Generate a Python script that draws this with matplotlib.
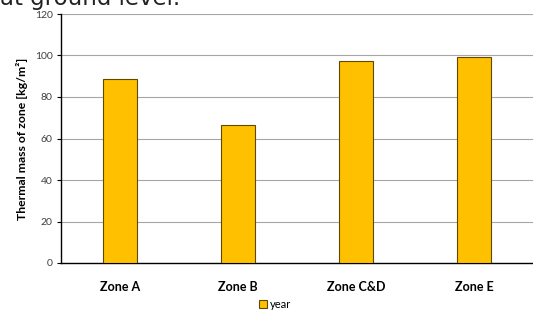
import matplotlib
matplotlib.use("Agg")
import matplotlib.pyplot as plt
from matplotlib.patches import Patch

categories = ["Zone A", "Zone B", "Zone C&D", "Zone E"]
values = [88.5, 66.5, 97.5, 99.5]
yticks = [0, 20, 40, 60, 80, 100, 120]
series_name = "year"

plt.rcParams['font.family'] = ['Lato', 'DejaVu Sans']

fig = plt.figure(figsize=(5.33, 3.13), dpi=100)
ax = fig.add_axes([61/533, 1 - 263/313, 1 - 61/533, (263 - 14)/313])

x = range(len(categories))
ax.bar(x, values, width=0.29, color="#FFC000", edgecolor="#5C4A00", linewidth=0.8, zorder=3)
ax.set_xlim(-0.5, len(categories) - 0.5)
ax.set_ylim(0, 120)
ax.set_yticks(yticks)
ax.set_yticklabels([str(t) for t in yticks], fontsize=7.5, color="#404040")
ax.set_xticks(list(x))
ax.set_xticklabels(categories, fontsize=9, fontweight="bold")
ax.tick_params(axis='x', length=0, pad=13)
ax.tick_params(axis='y', length=3, width=0.8, pad=3)
ax.grid(axis='y', color="#A6A6A6", linewidth=0.8, zorder=0)
for s in ["top", "right"]:
    ax.spines[s].set_visible(False)
ax.spines["left"].set_linewidth(1.0)
ax.spines["bottom"].set_linewidth(1.0)
ax.set_ylabel("Thermal mass of zone [kg/m²]", fontsize=8.8, fontweight="bold", labelpad=5)

fig.text(0.0, 1 - 5/313, "at ground level.", fontsize=16.5, family="DejaVu Sans",
         va="baseline", ha="left", color="#222222")

handle = Patch(facecolor="#FFC000", edgecolor="#5C4A00", linewidth=0.8)
fig.legend([handle], [series_name], loc="center", bbox_to_anchor=(275/533, 1 - 304/313),
           frameon=False, fontsize=8, handlelength=0.7, handleheight=0.7, handletextpad=0.3)

fig.savefig("out.png", dpi=100)
